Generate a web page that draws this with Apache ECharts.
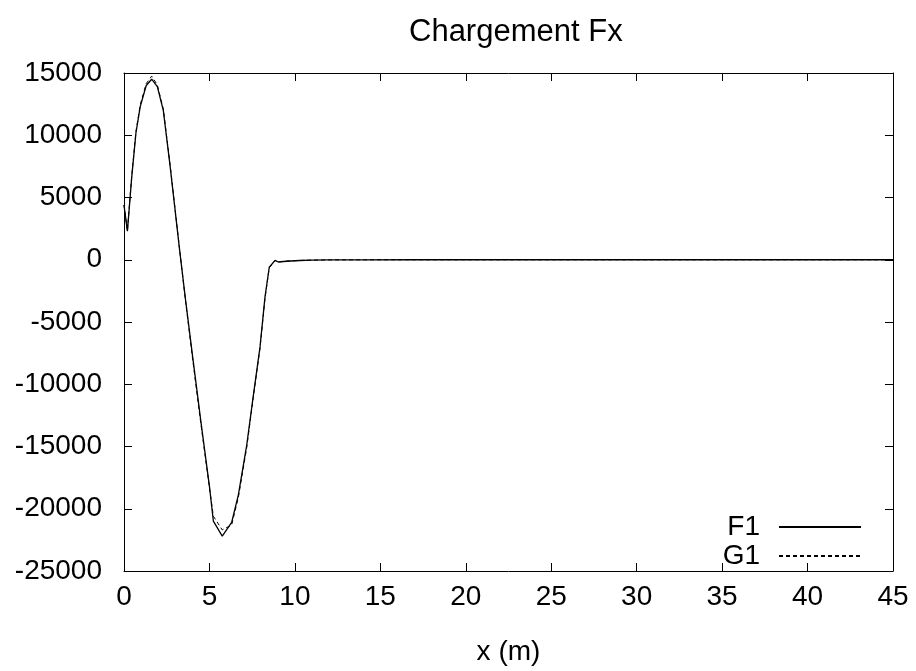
<!DOCTYPE html>
<html>
<head>
<meta charset="utf-8">
<script src="https://cdn.jsdelivr.net/npm/echarts@6/dist/echarts.min.js"></script>
<style>html,body{margin:0;padding:0;background:#fff;}#c{width:916px;height:671px;}</style>
</head>
<body>
<div id="c"></div>
<script>
// Data
const xValues = [0, 0.2, 0.45, 0.7, 0.95, 1.3, 1.62, 1.95, 2.3, 2.7, 3.24, 3.6, 4.0, 4.5, 5.0, 5.23, 5.75, 6.3, 6.69, 7.18, 7.57, 7.96, 8.25, 8.5, 8.84, 9.03, 9.5, 10.3, 11, 12, 14, 17, 20, 25, 30, 35, 40, 45];
const f1Values = [4400, 2300, 6600, 10200, 12300, 14000, 14500, 13900, 12000, 7500, 950, -3200, -7600, -13000, -18200, -21000, -22200, -21100, -18900, -14900, -10900, -7000, -3000, -600, -50, -180, -120, -60, -30, -15, -5, 0, 0, 0, 0, 0, 0, 0];
const g1Values = [4400, 2300, 6700, 10300, 12450, 14150, 14750, 14050, 12100, 7600, 1000, -3300, -7800, -13200, -18300, -20600, -21700, -21300, -19100, -15100, -11000, -7100, -3100, -650, -60, -170, -110, -55, -28, -14, -5, 0, 0, 0, 0, 0, 0, 0];
const seriesNames = ['F1', 'G1'];
const yTicks = [-25000, -20000, -15000, -10000, -5000, 0, 5000, 10000, 15000];
const xTicks = [0, 5, 10, 15, 20, 25, 30, 35, 40, 45];
const chartTitle = 'Chargement Fx';
const xTitle = 'x (m)';

const FONT = 'Liberation Sans, Arial, sans-serif';
const chart = echarts.init(document.getElementById('c'), null, {renderer: 'canvas'});
const toPairs = (vals) => xValues.map((x, i) => [x, vals[i]]);
const axisCommon = {
  axisLine: {show: true, onZero: false, lineStyle: {color: '#000', width: 1}},
  axisTick: {show: true, inside: true, length: 8, lineStyle: {color: '#000', width: 1}},
  splitLine: {show: false}
};
chart.setOption({
  animation: false,
  backgroundColor: '#fff',
  title: {
    text: chartTitle, left: 404, top: 12,
    textStyle: {fontFamily: FONT, fontSize: 31, fontWeight: 'normal', color: '#000'}
  },
  grid: {left: 124, right: 23, top: 73, bottom: 94, containLabel: false},
  legend: {
    data: seriesNames, orient: 'vertical', right: 49, top: 508, align: 'right',
    itemWidth: 82, itemHeight: 14, itemGap: 1,
    itemStyle: {opacity: 0},
    textStyle: {fontFamily: FONT, fontSize: 28, color: '#000', padding: [0, 14, 0, 0]}
  },
  xAxis: [
    Object.assign({}, axisCommon, {
      type: 'value', min: xTicks[0], max: xTicks[xTicks.length - 1], interval: 5, position: 'bottom',
      name: xTitle, nameLocation: 'middle', nameGap: 67,
      nameTextStyle: {fontFamily: FONT, fontSize: 28, color: '#000'},
      axisLabel: {fontFamily: FONT, fontSize: 28, color: '#000', margin: 12, formatter: (v) => String(v)}
    }),
    Object.assign({}, axisCommon, {
      type: 'value', min: xTicks[0], max: xTicks[xTicks.length - 1], interval: 5, position: 'top',
      axisLabel: {show: false}
    })
  ],
  yAxis: [
    Object.assign({}, axisCommon, {
      type: 'value', min: yTicks[0], max: yTicks[yTicks.length - 1], interval: 5000, position: 'left',
      axisLabel: {fontFamily: FONT, fontSize: 28, color: '#000', margin: 22, formatter: (v) => String(v)}
    }),
    Object.assign({}, axisCommon, {
      type: 'value', min: yTicks[0], max: yTicks[yTicks.length - 1], interval: 5000, position: 'right',
      axisLabel: {show: false}
    })
  ],
  series: [
    {name: seriesNames[0], type: 'line', data: toPairs(f1Values), symbol: 'none', showSymbol: false,
     lineStyle: {color: '#000', width: 1.3, type: 'solid'}, itemStyle: {color: '#000'}, z: 3},
    {name: seriesNames[1], type: 'line', data: toPairs(g1Values), symbol: 'none', showSymbol: false,
     lineStyle: {color: '#000', width: 1, type: [4, 3]}, itemStyle: {color: '#000'}, z: 2}
  ]
});
</script>
</body>
</html>
